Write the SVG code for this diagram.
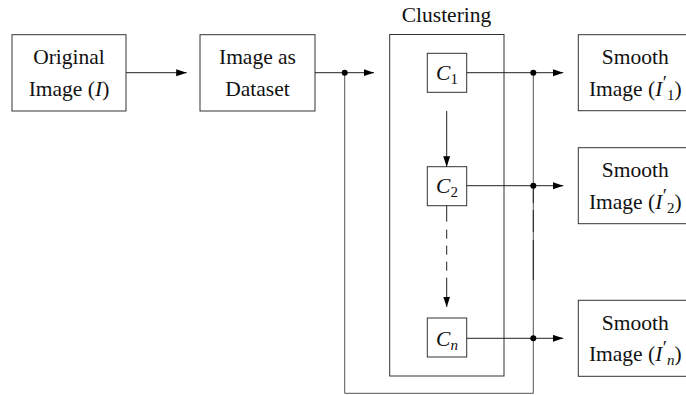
<svg xmlns="http://www.w3.org/2000/svg" width="686" height="395" viewBox="0 0 686 395">
<style>
  .box { fill: #fff; stroke: #333; stroke-width: 1; }
  .frame { fill: none; stroke: #333; stroke-width: 1; }
  .ln { fill: none; stroke: #222; stroke-width: 1; }
  .vl { fill: none; stroke: #555; stroke-width: 1; }
  .dot { fill: #000; }
  text { font-family: "Liberation Serif", "Times New Roman", serif; font-size: 21.5px; fill: #111; }
  .it { font-style: italic; }
  .sub { font-size: 15px; }
  .pr { font-size: 19px; }
</style>
<defs>
  <marker id="arr" markerUnits="userSpaceOnUse" markerWidth="11" markerHeight="8" refX="10.5" refY="3.5" orient="auto">
    <path d="M0,0 L10.5,3.5 L0,7 z" fill="#000" stroke="none"/>
  </marker>
</defs>

<g font-family="Liberation Serif, serif">
<g id="original">
  <rect class="box" x="12" y="34.7" width="114" height="76.3"/>
  <text x="69" y="64.3" text-anchor="middle">Original</text>
  <text x="69" y="95.7" text-anchor="middle">Image (<tspan class="it">I</tspan>)</text>
</g>

<g id="dataset">
  <rect class="box" x="200" y="34.7" width="115" height="76.3"/>
  <text x="257.5" y="64.3" text-anchor="middle">Image as</text>
  <text x="257.5" y="95.7" text-anchor="middle">Dataset</text>
</g>

<g id="clustering">
  <rect class="frame" x="389.7" y="34.5" width="114.3" height="341.5"/>
  <text x="446.5" y="22" text-anchor="middle">Clustering</text>
</g>

<g id="c1">
  <rect class="box" x="427.3" y="53.3" width="39.4" height="39"/>
  <text x="447" y="80" text-anchor="middle"><tspan class="it">C</tspan><tspan class="sub" dy="4">1</tspan></text>
</g>

<g id="c2">
  <rect class="box" x="427.3" y="166.7" width="39.4" height="39"/>
  <text x="447" y="193" text-anchor="middle"><tspan class="it">C</tspan><tspan class="sub" dy="4">2</tspan></text>
</g>

<g id="cn">
  <rect class="box" x="427.3" y="318" width="39.4" height="39"/>
  <text x="447" y="345.5" text-anchor="middle"><tspan class="it">C</tspan><tspan class="sub it" dy="4">n</tspan></text>
</g>

<g id="smooth1">
  <rect class="box" x="578.3" y="34.7" width="114" height="76"/>
  <text x="635.3" y="64.3" text-anchor="middle">Smooth</text>
  <text x="635.3" y="95.7" text-anchor="middle">Image (<tspan class="it">I</tspan><tspan class="pr" dx="0.5" dy="-7">′</tspan><tspan class="sub" dy="11">1</tspan><tspan dy="-4">)</tspan></text>
</g>

<g id="smooth2">
  <rect class="box" x="578.3" y="147.7" width="114" height="76"/>
  <text x="635.3" y="177.3" text-anchor="middle">Smooth</text>
  <text x="635.3" y="208.7" text-anchor="middle">Image (<tspan class="it">I</tspan><tspan class="pr" dx="0.5" dy="-7">′</tspan><tspan class="sub" dy="11">2</tspan><tspan dy="-4">)</tspan></text>
</g>

<g id="smoothn">
  <rect class="box" x="578.3" y="300.3" width="114" height="76"/>
  <text x="635.3" y="330" text-anchor="middle">Smooth</text>
  <text x="635.3" y="361.4" text-anchor="middle">Image (<tspan class="it">I</tspan><tspan class="pr" dx="0.5" dy="-7">′</tspan><tspan class="sub it" dy="11">n</tspan><tspan dy="-4">)</tspan></text>
</g>
</g>

<g id="connectors">
  <line class="ln" x1="126" y1="72.7" x2="186.7" y2="72.7" marker-end="url(#arr)"/>
  <line class="ln" x1="315" y1="72.7" x2="374" y2="72.7" marker-end="url(#arr)"/>
  <path class="vl" d="M344.7,72.7 V393.3 H533.3 V72.7"/>
  <line class="ln" x1="533.3" y1="185.7" x2="533.3" y2="338.3" stroke="#111" stroke-dasharray="17.3 7 22 8 40 100"/>
  <line class="ln" x1="466.7" y1="72.7" x2="563.3" y2="72.7" marker-end="url(#arr)"/>
  <line class="ln" x1="466.7" y1="185.7" x2="563.3" y2="185.7" marker-end="url(#arr)"/>
  <line class="ln" x1="466.7" y1="338.3" x2="563.3" y2="338.3" marker-end="url(#arr)"/>
  <line class="ln" x1="446.7" y1="111" x2="446.7" y2="166.7" marker-end="url(#arr)"/>
  <line class="ln" x1="446.7" y1="205.7" x2="446.7" y2="307" stroke-dasharray="16 8 9 7 9 7 9 7 60" marker-end="url(#arr)"/>
  <circle class="dot" cx="344.7" cy="72.7" r="3"/>
  <circle class="dot" cx="533.3" cy="72.7" r="3"/>
  <circle class="dot" cx="533.3" cy="185.7" r="3"/>
  <circle class="dot" cx="533.3" cy="338.3" r="3"/>
</g>
</svg>
